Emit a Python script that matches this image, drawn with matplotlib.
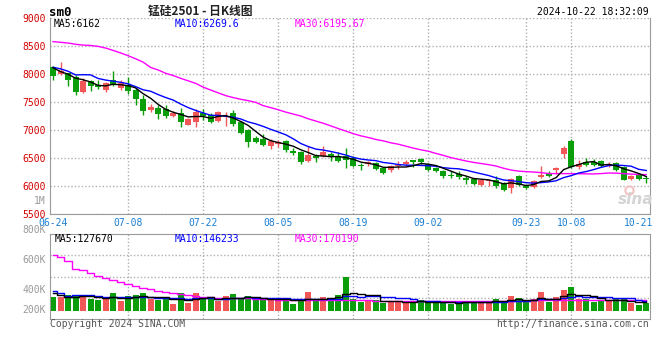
"""
Silicon-manganese 2501 (sm0) daily K-line chart, Sina finance style.
Candles + MA5/MA10/MA30 on top, volume bars + volume MAs underneath.
"""

import matplotlib

matplotlib.use("Agg")
import matplotlib.pyplot as plt
import numpy as np

MONO = "DejaVu Sans Mono"
CJK = ["Noto Sans CJK SC", "DejaVu Sans"]

RED = "#f25757"
GREEN = "#0a9e0a"
GRID = "#b0b0b0"
FRAME = "#9a9a9a"
DATE_BLUE = "#1a7fd4"
PRICE_RED = "#d40000"
LABEL_GREY = "#9a9a9a"

# 80 sessions, 2024-06-24 .. 2024-10-22
opens = [8119, 7994, 8012, 7940, 7667, 7869, 7804, 7714, 7893, 7744,
         7804, 7714, 7554, 7357, 7381, 7369, 7250, 7298, 7089, 7131,
         7298, 7268, 7149, 7226, 7298, 7131, 7000, 6845, 6833, 6714,
         6750, 6798, 6613, 6595, 6435, 6524, 6536, 6571, 6524, 6524,
         6494, 6369, 6393, 6405, 6316, 6274, 6345, 6381, 6452, 6476,
         6387, 6310, 6256, 6190, 6214, 6137, 6119, 6018, 6078, 6107,
         6048, 5958, 6167, 6000, 5976, 6155, 6208, 6274, 6571, 6792,
         6333, 6417, 6429, 6447, 6357, 6405, 6333, 6119, 6185, 6137]
highs = [8143, 8208, 8024, 7976, 7923, 7893, 7893, 7863, 8054, 7893,
         7952, 7744, 7613, 7465, 7440, 7446, 7327, 7393, 7208, 7369,
         7369, 7298, 7327, 7310, 7357, 7149, 7012, 6893, 6929, 6833,
         6810, 6821, 6672, 6613, 6702, 6571, 6702, 6595, 6595, 6672,
         6524, 6405, 6435, 6417, 6333, 6375, 6435, 6452, 6464, 6494,
         6405, 6333, 6286, 6256, 6256, 6167, 6137, 6119, 6119, 6167,
         6060, 6137, 6190, 6036, 6107, 6345, 6256, 6333, 6702, 6833,
         6452, 6494, 6476, 6464, 6417, 6417, 6345, 6196, 6196, 6179]
lows = [7893, 7982, 7774, 7625, 7655, 7685, 7726, 7667, 7786, 7714,
        7643, 7434, 7268, 7315, 7196, 7208, 7220, 7042, 7077, 7042,
        7179, 7119, 7131, 7071, 7060, 6928, 6690, 6762, 6714, 6661,
        6690, 6595, 6554, 6393, 6417, 6417, 6512, 6435, 6417, 6316,
        6333, 6274, 6357, 6286, 6214, 6238, 6298, 6345, 6333, 6393,
        6256, 6238, 6137, 6137, 6125, 6036, 6018, 6000, 6000, 5958,
        5905, 5869, 5988, 5940, 5958, 6137, 6155, 6214, 6494, 6316,
        6298, 6345, 6345, 6333, 6333, 6256, 6095, 6107, 6107, 6048]
closes = [7970, 8060, 7893, 7667, 7881, 7774, 7756, 7845, 7815, 7833,
          7696, 7554, 7327, 7405, 7286, 7250, 7298, 7131, 7184, 7321,
          7250, 7131, 7310, 7250, 7107, 6940, 6774, 6774, 6732, 6798,
          6774, 6631, 6583, 6417, 6554, 6494, 6595, 6524, 6435, 6452,
          6345, 6345, 6417, 6298, 6226, 6345, 6375, 6417, 6417, 6417,
          6286, 6256, 6167, 6167, 6155, 6107, 6036, 6107, 6107, 5988,
          5917, 6119, 6018, 5958, 6078, 6196, 6167, 6315, 6672, 6333,
          6393, 6375, 6375, 6357, 6393, 6274, 6107, 6179, 6125, 6125]
volumes = [205e3, 215e3, 235e3, 235e3, 235e3, 180e3, 170e3, 180e3, 265e3, 145e3,
           220e3, 235e3, 265e3, 180e3, 160e3, 185e3, 100e3, 265e3, 120e3, 265e3,
           195e3, 180e3, 150e3, 220e3, 250e3, 195e3, 220e3, 170e3, 170e3, 170e3,
           170e3, 190e3, 105e3, 160e3, 280e3, 160e3, 205e3, 190e3, 235e3, 510e3,
           180e3, 135e3, 170e3, 170e3, 120e3, 145e3, 145e3, 120e3, 135e3, 170e3,
           120e3, 135e3, 135e3, 110e3, 110e3, 150e3, 145e3, 145e3, 145e3, 175e3,
           135e3, 220e3, 190e3, 135e3, 175e3, 285e3, 135e3, 205e3, 310e3, 355e3,
           175e3, 175e3, 140e3, 160e3, 145e3, 175e3, 175e3, 120e3, 85e3, 120e3]

# sessions before 06-24 (only feed the first MA5/MA10 points)
prior_close = [8350, 8320, 8320, 7850, 7800, 8400, 8130, 8020, 8025]
prior_volume = [600e3, 600e3, 160e3, 160e3, 155e3, 390e3, 360e3, 235e3, 185e3]

# MA30 lines (their 30-day window starts before 06-24)
price_ma30 = [8577, 8565, 8552, 8530, 8515, 8508, 8492, 8462, 8420, 8375,
              8325, 8270, 8210, 8115, 8070, 8010, 7970, 7920, 7875, 7830,
              7762, 7710, 7660, 7610, 7575, 7545, 7520, 7490, 7430, 7395,
              7357, 7315, 7280, 7245, 7195, 7155, 7115, 7068, 7020, 6975,
              6929, 6890, 6860, 6825, 6800, 6765, 6740, 6705, 6670, 6640,
              6615, 6575, 6540, 6500, 6470, 6440, 6415, 6395, 6375, 6350,
              6310, 6278, 6258, 6250, 6242, 6232, 6216, 6214, 6214, 6214,
              6212, 6210, 6208, 6215, 6225, 6222, 6214, 6205, 6198, 6196]
volume_ma30 = [835e3, 805e3, 750e3, 635e3, 612e3, 575e3, 530e3, 490e3, 465e3, 430e3,
               405e3, 380e3, 350e3, 325e3, 305e3, 285e3, 265e3, 250e3, 235e3, 220e3,
               212e3, 205e3, 202e3, 198e3, 195e3, 192e3, 188e3, 185e3, 180e3, 175e3,
               172e3, 170e3, 168e3, 166e3, 165e3, 164e3, 162e3, 162e3, 162e3, 160e3,
               160e3, 158e3, 158e3, 156e3, 155e3, 155e3, 152e3, 150e3, 150e3, 150e3,
               150e3, 148e3, 148e3, 147e3, 146e3, 146e3, 145e3, 145e3, 146e3, 148e3,
               150e3, 152e3, 154e3, 156e3, 158e3, 160e3, 162e3, 163e3, 164e3, 165e3,
               166e3, 166e3, 166e3, 166e3, 167e3, 167e3, 168e3, 168e3, 169e3, 170e3]

tick_idx = [0, 10, 20, 30, 40, 50, 63, 69, 78]
tick_labels = ["06-24", "07-08", "07-22", "08-05", "08-19", "09-02", "09-23", "10-08", "10-21"]
price_ticks = [5500, 6000, 6500, 7000, 7500, 8000, 8500, 9000]
volume_axis_labels = ["1M", "800K", "600K", "400K", "200K"]
volume_label_y = [200.5, 230.3, 260.3, 290.3, 310.3]  # pixel rows, as Sina places them

price_ma_labels = ["MA5:6162", "MA10:6269.6", "MA30:6195.67"]
volume_ma_labels = ["MA5:127670", "MA10:146233", "MA30:170190"]
ma_colors = ["black", "#0000ff", "#ff00ff"]

W, H = 660, 360


def box(left, top, right, bottom):
    return [left / W, 1 - bottom / H, (right - left) / W, (bottom - top) / H]


def ftext(px, py, s, **kw):
    fig.text(px / W, 1 - py / H, s, **kw)


def moving_avg(history, values, n):
    ext = np.asarray(history + values, dtype=float)
    return np.convolve(ext, np.ones(n) / n, mode="valid")[-len(values):]


fig = plt.figure(figsize=(W / 100, H / 100), dpi=100)
ax = fig.add_axes(box(50, 18, 650, 213.5))
vax = fig.add_axes(box(50, 234.3, 650, 318.7))

x = np.arange(len(closes))
o, h, l, c = (np.asarray(a, dtype=float) for a in (opens, highs, lows, closes))
colors = np.where(c >= o, RED, GREEN)
xlim = (-0.4, 79.5)

# ---- price panel
for gx in tick_idx[1:-1]:
    ax.axvline(gx, color=GRID, linestyle=(0, (1, 1.5)), linewidth=1, zorder=0)
    vax.axvline(gx, color=GRID, linestyle=(0, (1, 1.5)), linewidth=1, zorder=0)

ax.vlines(x, l, h, colors=colors, linewidth=1, zorder=2)
ax.bar(x, np.maximum(np.abs(c - o), 10), bottom=np.minimum(o, c), width=0.8,
       color=colors, linewidth=0, zorder=3)

ma5 = moving_avg(prior_close, closes, 5)
ma10 = moving_avg(prior_close, closes, 10)
ax.plot(x, price_ma30, color=ma_colors[2], linewidth=1, zorder=4)
ax.plot(x, ma10, color=ma_colors[1], linewidth=1, zorder=4)
ax.plot(x, ma5, color=ma_colors[0], linewidth=1, zorder=5)

ax.set_xlim(*xlim)
ax.set_ylim(price_ticks[0], price_ticks[-1])
ax.set_yticks(price_ticks)
ax.set_yticklabels([str(v) for v in price_ticks], color=PRICE_RED, fontsize=7, family=MONO)
ax.set_xticks(tick_idx)
ax.set_xticklabels(tick_labels, color=DATE_BLUE, fontsize=7, family=MONO)
ax.tick_params(axis="both", length=0)
ax.tick_params(axis="y", pad=3)
ax.tick_params(axis="x", pad=3)
ax.yaxis.grid(True, color=GRID, linestyle=(0, (1, 1.5)), linewidth=1)
ax.set_axisbelow(True)
for side in ("left", "right", "bottom"):
    ax.spines[side].set_color(FRAME)
ax.spines["top"].set_visible(False)

# ---- volume panel
vlo, vhi = -115e3, 1150e3
vax.bar(x, volumes, width=0.8, color=colors, linewidth=0, zorder=2)
vma5 = moving_avg(prior_volume, volumes, 5)
vma10 = moving_avg(prior_volume, volumes, 10)
vax.plot(x, volume_ma30, color=ma_colors[2], linewidth=1, drawstyle="steps-mid", zorder=3)
vax.plot(x, vma10, color=ma_colors[1], linewidth=1, drawstyle="steps-mid", zorder=4)
vax.plot(x, vma5, color=ma_colors[0], linewidth=1, drawstyle="steps-mid", zorder=5)
vax.set_xlim(*xlim)
vax.set_ylim(vlo, vhi)
vax.set_yticks(np.linspace(vlo, vhi, 5)[1:-1])
vax.set_yticklabels([])
vax.set_xticks([])
vax.tick_params(axis="y", length=0)
vax.yaxis.grid(True, color=GRID, linestyle=(0, (1, 1.5)), linewidth=1)
vax.set_axisbelow(True)
for side in vax.spines:
    vax.spines[side].set_color(FRAME)

for s, py in zip(volume_axis_labels, volume_label_y):
    ftext(46, py, s, ha="right", va="center", color=LABEL_GREY, fontsize=7, family=MONO)

# ---- headers
ftext(49, 12, "sm0", ha="left", va="center", fontsize=9, weight="bold", family=MONO)
ftext(200, 11, "锰硅2501 - 日K线图", ha="center", va="center", fontsize=8.5,
      weight="bold", family=CJK, color="#222222")
ftext(649, 12, "2024-10-22 18:32:09", ha="right", va="center", fontsize=7, family=MONO)

for s, px, col in zip(price_ma_labels, [53.5, 175, 295], ma_colors):
    ftext(px, 24, s, ha="left", va="center", fontsize=7, family=MONO, color=col)
for s, px, col in zip(volume_ma_labels, [54.5, 175, 295], ma_colors):
    ftext(px, 238.5, s, ha="left", va="center", fontsize=7, family=MONO, color=col)

ftext(50, 323.7, "Copyright 2024 SINA.COM", ha="left", va="center", fontsize=7,
      family=MONO, color="#555555")
ftext(649, 323.7, "http://finance.sina.com.cn", ha="right", va="center", fontsize=7,
      family=MONO, color="#555555")

# sina watermark
ftext(636, 200, "sina", ha="center", va="center", fontsize=11, style="italic",
      weight="bold", color="#d4d4d4", family="DejaVu Sans")
ax.plot([0.965], [0.12], transform=ax.transAxes, marker="o", markersize=6,
        markerfacecolor="none", markeredgecolor="#f2c2c2", markeredgewidth=1.5)

fig.savefig("out.png", dpi=100)
